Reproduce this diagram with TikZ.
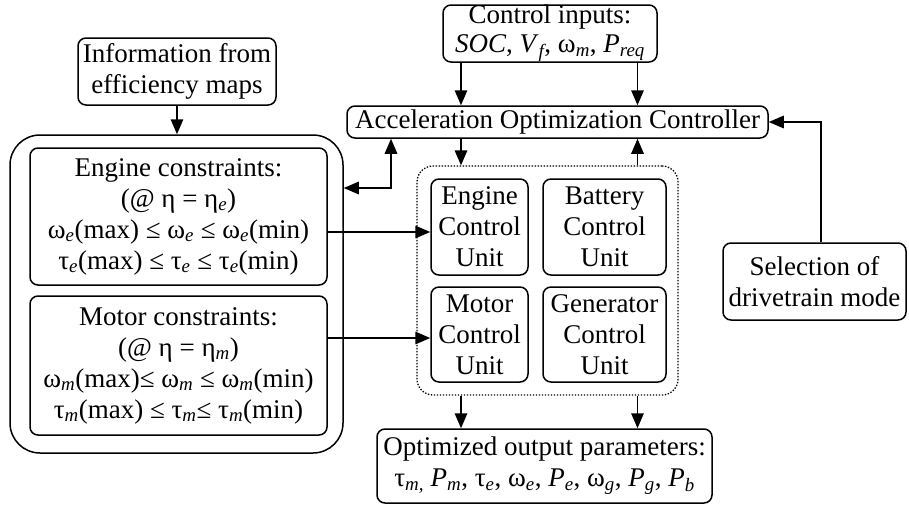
\documentclass[tikz,border=0pt]{standalone}
\usepackage{fontspec}
\setmainfont{Liberation Serif}
\usetikzlibrary{arrows.meta}
\newcommand\subi[1]{\textsubscript{\itshape #1}}
\begin{document}
\begin{tikzpicture}[x=1pt,y=-1pt,
  every node/.style={font=\fontsize{27}{31}\selectfont},
  blk/.style={draw,line width=1.5pt,rounded corners=8pt,align=center,inner sep=0pt},
  arr/.style={line width=1.5pt,-{Triangle[length=15pt,width=12.5pt]}},
  arrb/.style={line width=1.5pt,{Triangle[length=15pt,width=12.5pt]}-{Triangle[length=15pt,width=12.5pt]}}]
\useasboundingbox (0,0) rectangle (909,506);

% top inputs
\node[blk,minimum width=214pt,minimum height=57pt] (ctrl) at (550,33.5)
  {Control inputs:\\[-2pt] \textit{SOC}, \textit{V}\subi{f}, ω\subi{m}, \textit{P}\subi{req}};
\node[blk,minimum width=198pt,minimum height=67pt] (info) at (177,71.5)
  {Information from\\ efficiency maps};
\node[blk,minimum width=421pt,minimum height=32pt] (acc) at (557.5,122)
  {Acceleration Optimization Controller};

% constraint group
\node[draw,line width=1.5pt,rounded corners=30pt,minimum width=333pt,minimum height=318pt,inner sep=0pt] (outer) at (176.5,294) {};
\node[blk,minimum width=297pt,minimum height=137pt] (eng) at (178.5,216.5)
  {Engine constraints:\\ (@ η = η\subi{e})\\ ω\subi{e}(max) ≤ ω\subi{e} ≤ ω\subi{e}(min)\\ τ\subi{e}(max) ≤ τ\subi{e} ≤ τ\subi{e}(min)};
\node[blk,minimum width=297pt,minimum height=139pt] (mot) at (178.5,365.5)
  {Motor constraints:\\ (@ η = η\subi{m})\\ ω\subi{m}(max)≤ ω\subi{m} ≤ ω\subi{m}(min)\\ τ\subi{m}(max) ≤ τ\subi{m}≤ τ\subi{m}(min)};

% control units
\node[draw,line width=1.3pt,dash pattern=on 1.4pt off 1.6pt,rounded corners=16pt,minimum width=261pt,minimum height=229pt,inner sep=0pt] (units) at (547.5,280.5) {};
\node[blk,minimum width=97pt,minimum height=96pt] (ecu) at (479.5,227) {Engine\\ Control\\ Unit};
\node[blk,minimum width=123pt,minimum height=96pt] (bcu) at (604.5,227) {Battery\\ Control\\ Unit};
\node[blk,minimum width=97pt,minimum height=95pt] (mcu) at (479.5,334.5) {Motor\\ Control\\ Unit};
\node[blk,minimum width=123pt,minimum height=95pt] (gcu) at (604.5,334.5) {Generator\\ Control\\ Unit};

% outputs and mode selection
\node[blk,minimum width=335pt,minimum height=74pt] (out) at (544.5,466)
  {Optimized output parameters:\\ τ\subi{m,} \textit{P}\subi{m}, τ\subi{e}, ω\subi{e}, \textit{P}\subi{e}, ω\subi{g}, \textit{P}\subi{g}, \textit{P}\subi{b}};
\node[blk,minimum width=183pt,minimum height=77pt] (sel) at (814.5,281.5)
  {Selection of\\ drivetrain mode};

% connector columns and rows
\coordinate (xl) at (461,0);
\coordinate (xr) at (637.5,0);
\coordinate (knee) at (391,188);
\coordinate (ye) at (0,232);
\coordinate (ym) at (0,338);
\coordinate (xs) at (821,0);

\draw[arr] (info.south) -- (outer.north -| info.south);
\draw[arr] (ctrl.south -| xl) -- (acc.north -| xl);
\draw[arr] (ctrl.south -| xr) -- (acc.north -| xr);
\draw[arr] (acc.south -| xl) -- (units.north -| xl);
\draw[arr] (units.north -| xr) -- (acc.south -| xr);
\draw[arrb] (outer.east |- knee) -- (knee) -- (acc.south -| knee);
\draw[arr] (eng.east |- ye) -- (ecu.west |- ye);
\draw[arr] (mot.east |- ym) -- (mcu.west |- ym);
\draw[arr] (units.south -| xl) -- (out.north -| xl);
\draw[arr] (units.south -| xr) -- (out.north -| xr);
\draw[arr] (sel.north -| xs) |- (acc.east);
\end{tikzpicture}
\end{document}
